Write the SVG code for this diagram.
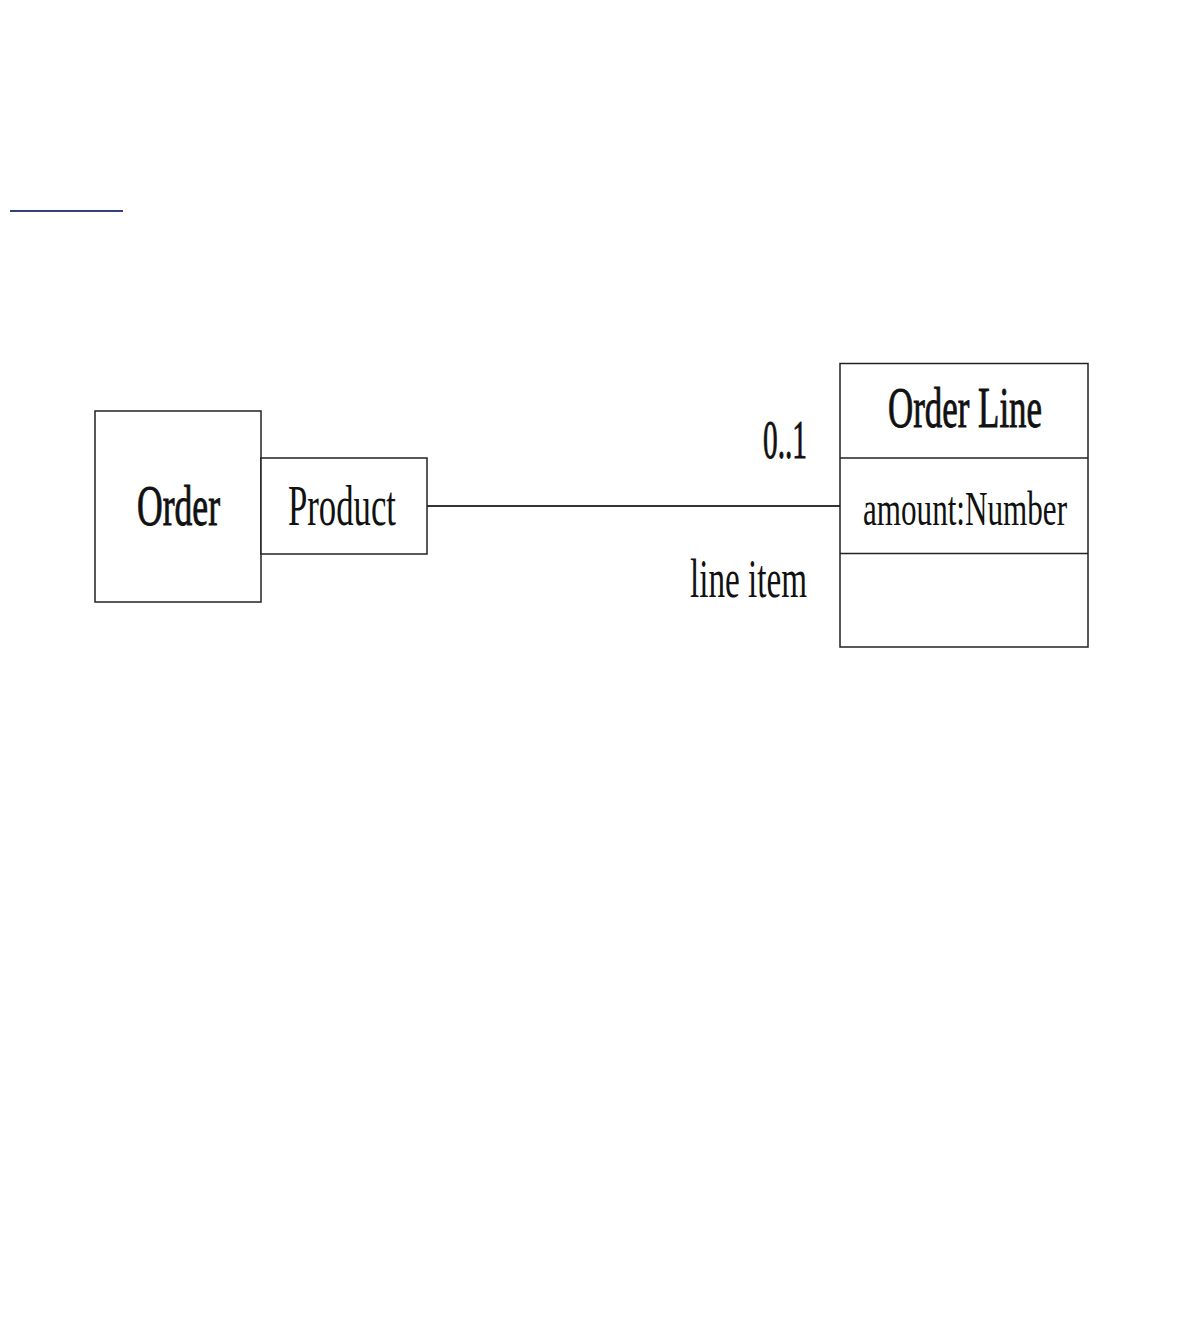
<svg xmlns="http://www.w3.org/2000/svg" width="1184" height="1320" viewBox="0 0 1184 1320">
<style>
.box{fill:#fff;stroke:#222;stroke-width:1.5}
.t{font-family:"Liberation Serif","Times New Roman",serif;fill:#111}
.b{stroke:#111;stroke-width:0.9}
.conn{stroke:#333;stroke-width:2;fill:none}
</style>
<rect width="1184" height="1320" fill="#fff"/>
<rect x="10" y="210" width="113" height="2" fill="#35407a"/>
<g id="connectors">
<line class="conn" x1="427" y1="506" x2="840" y2="506"/>
<text class="t b" x="763" y="458" font-size="55" textLength="44" lengthAdjust="spacingAndGlyphs">0..1</text>
<text class="t" x="690" y="597" font-size="54" textLength="117" lengthAdjust="spacingAndGlyphs">line item</text>
</g>
<g id="order">
<rect class="box" x="95" y="411" width="166" height="191"/>
<text class="t b" x="137" y="525" font-size="56" textLength="83" lengthAdjust="spacingAndGlyphs">Order</text>
</g>
<g id="product">
<rect class="box" x="261" y="458" width="166" height="96"/>
<text class="t" x="288" y="525" font-size="56" textLength="108" lengthAdjust="spacingAndGlyphs">Product</text>
</g>
<g id="orderline">
<rect class="box" x="840" y="363.5" width="248" height="283.5"/>
<line class="box" x1="840" y1="458" x2="1088" y2="458"/>
<line class="box" x1="840" y1="553.5" x2="1088" y2="553.5"/>
<text class="t b" x="888" y="427" font-size="56" textLength="154" lengthAdjust="spacingAndGlyphs">Order Line</text>
<text class="t" x="863" y="525" font-size="48" textLength="204" lengthAdjust="spacingAndGlyphs">amount:Number</text>
</g>
</svg>
